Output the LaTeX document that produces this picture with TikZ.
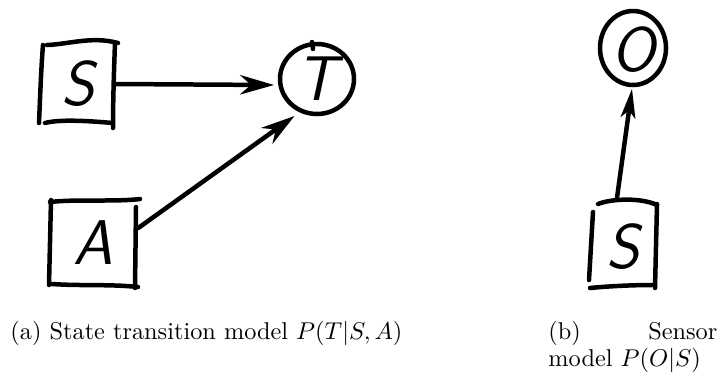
\documentclass[tikz,border=0pt]{standalone}
\usepackage{fontspec}
\usetikzlibrary{arrows.meta,calc}
\begin{document}
\begin{tikzpicture}[x=0.4115pt,y=-0.4115pt,
  hand/.style={line width=1.85pt,line cap=round,line join=round},
  letter/.style={font=\fontsize{26}{26}\selectfont\sffamily\itshape,inner sep=0pt},
  boxnode/.style={letter,rectangle,minimum width=31pt,minimum height=34pt},
  circnode/.style={letter,circle,minimum size=30pt},
  bigarrow/.style={hand,-{Stealth[open,length=14pt,width=8pt,inset=4.5pt]}},
  smallarrow/.style={hand,-{Stealth[open,length=12pt,width=6pt,inset=3pt]}},
  caption/.style={inner sep=0pt,font=\fontsize{10}{11}\selectfont}
]
\useasboundingbox (0,0) rectangle (725,374);

% nodes
\node[boxnode] (S1) at (78,84) {S};
\node[circnode] (T) at (317,79) {T};
\node[boxnode,minimum width=36pt,minimum height=35pt] (A1) at (93,243) {A};
\node[circnode,minimum size=29pt] (O) at (633,50) {O};
\node[boxnode,minimum width=27pt,minimum height=36pt] (S2) at (623,247) {S};

% hand-drawn outlines
\draw[hand] (47,45) .. controls (70,44) and (92,36) .. (118,43);
\draw[hand] (43,45) .. controls (41,70) and (40,100) .. (39,123);
\draw[hand] (45,123) .. controls (60,119) and (90,121) .. (113,123);
\draw[hand] (115,43) .. controls (114,70) and (113,100) .. (113,128);

\draw[hand] (317,79) ellipse [x radius=37,y radius=35];
\draw[hand] (312,42) -- (313,49);

\draw[hand] (50,202) .. controls (75,199) and (115,202) .. (140,199);
\draw[hand] (51,200) -- (49,285);
\draw[hand] (52,284) .. controls (80,286) and (110,284) .. (138,287);
\draw[hand] (136,207) -- (135,288);

\draw[hand] (633,48) ellipse [x radius=33,y radius=37];

\draw[hand] (598,204) .. controls (610,199) and (640,197) .. (657,205);
\draw[hand] (593,212) -- (589,280);
\draw[hand] (657,204) -- (655,288);
\draw[hand] (590,288) .. controls (610,286) and (635,285) .. (652,285);

% connectors
\draw[bigarrow] (S1.east) -- ([shift={(-6,6)}]T.west);
\draw[bigarrow] ([shift={(1,-15)}]A1.east) -- ([shift={(-4,5)}]T.240);
\draw[smallarrow] ([shift={(-6,-5)}]S2.north) -- ([shift={(-1,3)}]O.south);

% captions
\node[caption,anchor=base west] (capa) at (10,339) {(a) State transition model $P(T|S,A)$};
\node[caption,anchor=north west,text width=69.5pt,align=left] (capb) at (548,321)
  {(b)\hfill Sensor\\model $P(O|S)$};
\end{tikzpicture}
\end{document}
